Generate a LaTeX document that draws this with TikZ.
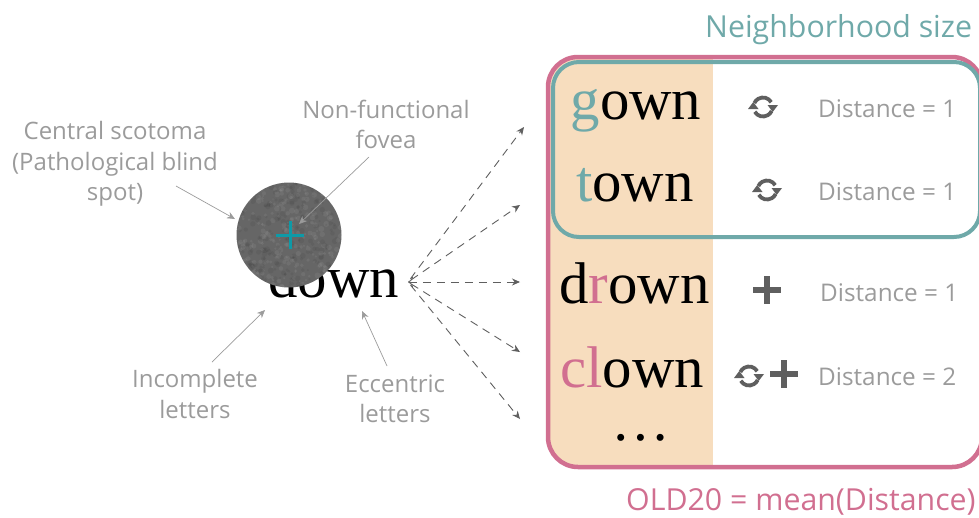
\documentclass[tikz,border=0pt]{standalone}
\usepackage{fontspec}
\setmainfont{Open Sans}
\newfontfamily\wordfont{Liberation Serif}
\usetikzlibrary{arrows.meta}
\definecolor{tealline}{HTML}{6FA9A9}
\definecolor{pinkline}{HTML}{D16F90}
\definecolor{peachfill}{HTML}{F7DDBE}
\definecolor{labelgray}{HTML}{9B9B9B}
\definecolor{icongray}{HTML}{5F5F5F}
\definecolor{crossteal}{HTML}{0E9AA7}
\tikzset{
    graylabel/.style={text=labelgray, font=\fontsize{24}{30.5}\selectfont, align=center},
    distlabel/.style={text=labelgray, font=\fontsize{24.3}{26}\selectfont, anchor=base west, inner sep=0pt},
    wordlabel/.style={font=\wordfont\fontsize{58.8}{60}\selectfont, anchor=base west, inner sep=0pt},
    titlelabel/.style={font=\fontsize{30.3}{32}\selectfont, anchor=base west, inner sep=0pt},
    pointer/.style={labelgray, line width=0.7pt, -{Stealth[length=8pt,width=7pt]}},
    fanline/.style={icongray, line width=0.9pt, dash pattern=on 8pt off 6pt, -{Stealth[length=8pt,width=7pt]}},
    refresh/.pic={
        \draw[icongray, line width=3.8pt] (150:9.5) arc (150:25:9.5);
        \draw[icongray, line width=3.8pt] (330:9.5) arc (330:205:9.5);
        \fill[icongray] (-15,2) -- (-4.5,2) -- (-9.7,-5) -- cycle;
        \fill[icongray] (15,-2) -- (4.5,-2) -- (9.7,5) -- cycle;
    },
    plusicon/.pic={
        \fill[icongray] (-14,-3) rectangle (14,3);
        \fill[icongray] (-3,-14) rectangle (3,14);
    }
}
\begin{document}
\begin{tikzpicture}[x=1pt,y=-1pt]
    \useasboundingbox (0,0) rectangle (979,517);

    % word and lexical neighbours
    \begin{scope}
        \clip[rounded corners=30pt] (548,57) rectangle (982,467);
        \fill[peachfill] (548,57) rectangle (713,467);
    \end{scope}
    \draw[pinkline, line width=4.5pt, rounded corners=30pt] (548,57) rectangle (982,467);
    \draw[tealline, line width=4pt, rounded corners=26pt] (553,62) rectangle (980,237);

    \node[wordlabel] (target) at (268,297) {down};
    \node[wordlabel] (gown) at (570.5,119) {\textcolor{tealline}{g}own};
    \node[wordlabel] (town) at (576,201) {\textcolor{tealline}{t}own};
    \node[wordlabel] (drown) at (559,303) {d\textcolor{pinkline}{r}own};
    \node[wordlabel] (clown) at (560,387) {\textcolor{pinkline}{cl}own};
    \node[wordlabel] (dots) at (611,440) {…};

    % scotoma
    \fill[black!60] (289,235) circle (52.5);
    \begin{scope}
        \clip (289,235) circle (52.5);
        \pgfmathsetseed{7}
        \foreach \i in {1,...,500} {
            \pgfmathsetmacro{\blobx}{237+105*rnd}
            \pgfmathsetmacro{\bloby}{183+105*rnd}
            \pgfmathsetmacro{\blobr}{1+2*rnd}
            \pgfmathparse{rnd>0.5 ? "black" : "white"}
            \fill[\pgfmathresult, opacity=0.06] (\blobx,\bloby) circle (\blobr);
        }
    \end{scope}
    \draw[crossteal, line width=3pt] (276,235) -- (304,235);
    \draw[crossteal, line width=3pt] (290,221) -- (290,249);

    % annotations
    \node[graylabel] (scotoma) at (115,164) {Central scotoma\\(Pathological blind\\spot)};
    \node[graylabel] (fovea) at (386,124.5) {Non-functional\\fovea};
    \node[graylabel] (incomplete) at (195,394) {Incomplete\\letters};
    \node[graylabel] (eccentric) at (395,399) {Eccentric\\letters};

    \coordinate (scotomatip) at (235,219);
    \coordinate (foveatip) at (299,224);
    \coordinate (incompletetip) at (265,310);
    \coordinate (eccentrictip) at (362,311);
    \draw[pointer] (176,186) -- (scotomatip);
    \draw[pointer] (369,157) -- (foveatip);
    \draw[pointer] (212,362) -- (incompletetip);
    \draw[pointer] (387,366) -- (eccentrictip);

    % fan of arrows
    \coordinate (fanroot) at (408,282);
    \coordinate (fana) at (524,127);
    \coordinate (fanb) at (520,205);
    \coordinate (fanc) at (520,282);
    \coordinate (fand) at (520,352);
    \coordinate (fane) at (520,419);
    \foreach \fanend in {fana,fanb,fand,fane} {
        \draw[fanline, shorten <=4pt] (fanroot) -- (\fanend);
    }
    \draw[fanline, {To[length=5pt]}-{Stealth[length=8pt,width=7pt]}] (fanroot) -- (fanc);

    % edit icons and distances
    \pic at (763,107) {refresh};
    \pic at (767,190) {refresh};
    \pic at (749,376) {refresh};
    \pic at (767,290) {plusicon};
    \pic at (784,374) {plusicon};

    \node[distlabel] (dista) at (818,117) {Distance = 1};
    \node[distlabel] (distb) at (818,200) {Distance = 1};
    \node[distlabel] (distc) at (820,301) {Distance = 1};
    \node[distlabel] (distd) at (818,385) {Distance = 2};

    \node[titlelabel, text=tealline] (neighbourhood) at (705,37) {Neighborhood size};
    \node[titlelabel, text=pinkline] (old) at (626,510.5) {OLD20 = mean(Distance)};
\end{tikzpicture}
\end{document}
